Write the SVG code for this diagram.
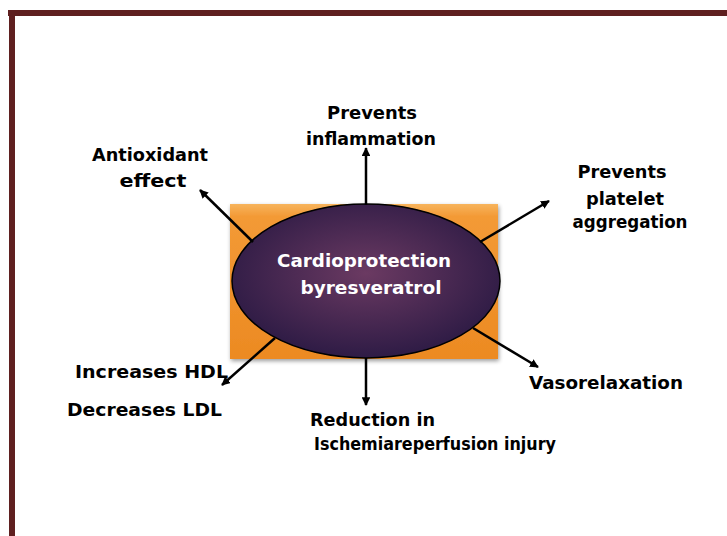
<svg xmlns="http://www.w3.org/2000/svg" width="727" height="536" viewBox="0 0 727 536">
<defs>
<style>
.t{font-family:"Comic Sans MS","DejaVu Sans","Liberation Sans",sans-serif;font-weight:bold;font-size:17px;fill:#000}
.w{fill:#fff}
.c{stroke:#000;stroke-width:2.5;fill:none;marker-end:url(#ah)}
</style>
<marker id="ah" viewBox="0 0 10 10" refX="9" refY="5" markerWidth="3.5" markerHeight="3.5" orient="auto" markerUnits="strokeWidth">
<path d="M0,0 L10,5 L0,10 z" fill="#000"/>
</marker>
<linearGradient id="og" x1="0" y1="0" x2="0" y2="1">
<stop offset="0" stop-color="#f7b45c"/>
<stop offset="0.08" stop-color="#f39a36"/>
<stop offset="1" stop-color="#ec8a22"/>
</linearGradient>
<radialGradient id="pg" cx="0.5" cy="0.45" r="0.55">
<stop offset="0" stop-color="#6b3a62"/>
<stop offset="1" stop-color="#2e1b45"/>
</radialGradient>
<filter id="sh" x="-10%" y="-10%" width="125%" height="125%">
<feGaussianBlur in="SourceAlpha" stdDeviation="2"/>
<feOffset dx="1" dy="2"/>
<feComponentTransfer><feFuncA type="linear" slope="0.4"/></feComponentTransfer>
<feMerge><feMergeNode/><feMergeNode in="SourceGraphic"/></feMerge>
</filter>
</defs>
<rect width="727" height="536" fill="#fff"/>
<g id="frame">
<rect x="8" y="10" width="719" height="6" fill="#5f2020"/>
<rect x="9" y="10" width="6" height="526" fill="#5f2020"/>
</g>
<g id="center">
<rect x="230" y="204" width="268" height="155" fill="url(#og)" filter="url(#sh)"/>
<ellipse cx="366" cy="281" rx="134" ry="77" fill="url(#pg)" stroke="#000" stroke-width="1.5"/>
<text class="t w" x="364" y="267" text-anchor="middle" textLength="174" lengthAdjust="spacingAndGlyphs">Cardioprotection</text>
<text class="t w" x="371" y="294" text-anchor="middle" textLength="141" lengthAdjust="spacingAndGlyphs">byresveratrol</text>
</g>
<g id="connectors">
<line class="c" x1="366" y1="205" x2="366" y2="148"/>
<line class="c" x1="253" y1="242" x2="200" y2="190"/>
<line class="c" x1="480" y1="242" x2="549" y2="201"/>
<line class="c" x1="275" y1="338" x2="222" y2="385"/>
<line class="c" x1="366" y1="358" x2="366" y2="405"/>
<line class="c" x1="473" y1="328" x2="538" y2="367"/>
</g>
<g id="inflammation">
<text class="t" x="372" y="119" text-anchor="middle" textLength="90" lengthAdjust="spacingAndGlyphs">Prevents</text>
<text class="t" x="371" y="145" text-anchor="middle" textLength="130" lengthAdjust="spacingAndGlyphs">inflammation</text>
</g>
<g id="antioxidant">
<text class="t" x="150" y="161" text-anchor="middle" textLength="116" lengthAdjust="spacingAndGlyphs">Antioxidant</text>
<text class="t" x="153" y="187" text-anchor="middle" textLength="67" lengthAdjust="spacingAndGlyphs">effect</text>
</g>
<g id="platelet">
<text class="t" x="622" y="178" text-anchor="middle" textLength="89" lengthAdjust="spacingAndGlyphs">Prevents</text>
<text class="t" x="625" y="205" text-anchor="middle" textLength="78" lengthAdjust="spacingAndGlyphs">platelet</text>
<text class="t" x="630" y="228" text-anchor="middle" textLength="115" lengthAdjust="spacingAndGlyphs">aggregation</text>
</g>
<g id="lipids">
<text class="t" x="75" y="378" textLength="153" lengthAdjust="spacingAndGlyphs">Increases HDL</text>
<text class="t" x="67" y="416" textLength="155" lengthAdjust="spacingAndGlyphs">Decreases LDL</text>
</g>
<g id="vasorelaxation">
<text class="t" x="529" y="389" textLength="154" lengthAdjust="spacingAndGlyphs">Vasorelaxation</text>
</g>
<g id="ischemia">
<text class="t" x="310" y="426" textLength="125" lengthAdjust="spacingAndGlyphs">Reduction in</text>
<text class="t" x="314" y="450" textLength="242" lengthAdjust="spacingAndGlyphs">Ischemiareperfusion injury</text>
</g>
</svg>
